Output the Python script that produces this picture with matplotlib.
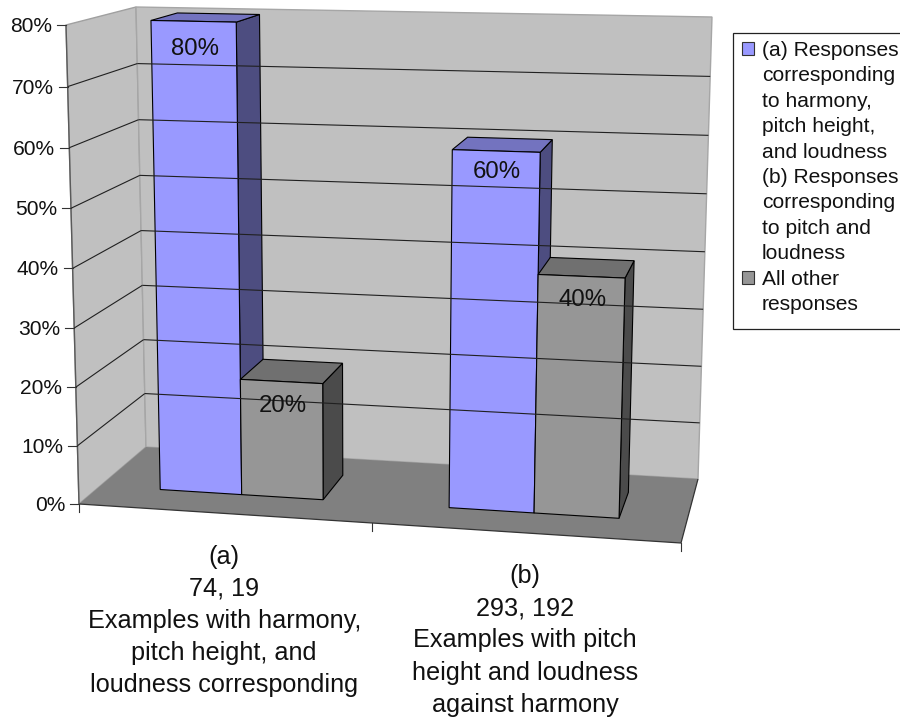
import numpy as np
import matplotlib
matplotlib.use("Agg")
import matplotlib.pyplot as plt
from matplotlib.patches import Polygon, Rectangle

plt.rcParams['font.family'] = ['Liberation Sans', 'DejaVu Sans']

# Chart content
categories = ["(a)\n74, 19\nExamples with harmony,\npitch height, and\nloudness corresponding",
              "(b)\n293, 192\nExamples with pitch\nheight and loudness\nagainst harmony"]
corresponding = [80, 60]
other = [20, 40]
value_ticks = [0, 10, 20, 30, 40, 50, 60, 70, 80]
legend_entries = ["(a) Responses\ncorresponding\nto harmony,\npitch height,\nand loudness\n(b) Responses\ncorresponding\nto pitch and\nloudness",
                  "All other\nresponses"]

BLUE = ("#9999FF", "#7373BF", "#4D4D80")
GREY = ("#969696", "#707070", "#4B4B4B")

# Screen corners of the 3-D plot box, (across, depth, height)
BOX = {(0, 0, 0): (79, 504), (1, 0, 0): (681, 543), (0, 1, 0): (146, 447), (1, 1, 0): (698, 479),
       (0, 0, 1): (66, 25), (1, 0, 1): (697, 38), (0, 1, 1): (136, 7), (1, 1, 1): (712, 17)}
VMAX = 80.0
BULGE = 0.033


def project(u, w, v):
    """Map across/depth/value to screen position by trilinear blending of the box corners."""
    s = v / VMAX
    s = s / (1 + BULGE * (1 - s))
    p = np.zeros(2)
    for (a, b, c), xy in BOX.items():
        p += (u if a else 1 - u) * (w if b else 1 - w) * (s if c else 1 - s) * np.array(xy, float)
    return p


fig = plt.figure(figsize=(9, 7.17), dpi=100)
ax = fig.add_axes([0, 0, 1, 1])
ax.set_xlim(0, 900)
ax.set_ylim(717, 0)
ax.axis("off")


def face(points, color, edge, lw=0.8):
    ax.add_patch(Polygon([project(*p) for p in points], closed=True, facecolor=color,
                         edgecolor=edge, linewidth=lw, joinstyle="miter"))


def seg(a, b, color, lw=0.8):
    pa, pb = project(*a), project(*b)
    ax.plot([pa[0], pb[0]], [pa[1], pb[1]], color=color, lw=lw, solid_capstyle="butt")


# Walls and floor
top = value_ticks[-1]
face([(0, 0, 0), (0, 1, 0), (0, 1, top), (0, 0, top)], "#C0C0C0", "#A0A0A0", 1.0)
face([(0, 1, 0), (1, 1, 0), (1, 1, top), (0, 1, top)], "#C0C0C0", "#A6A6A6", 1.0)
face([(0, 0, 0), (1, 0, 0), (1, 1, 0), (0, 1, 0)], "#808080", "none")
seg((0, 0, 0), (1, 0, 0), "#333333", 0.9)
seg((1, 0, 0), (1, 1, 0), "#333333", 0.9)
seg((0, 0, 0), (0, 0, top), "#5A5A5A", 1.0)

# Gridlines along both walls, value ticks and labels
for t in value_ticks:
    if t not in (0, top):
        seg((0, 0, t), (0, 1, t), "#202020", 0.8)
        seg((0, 1, t), (1, 1, t), "#202020", 0.8)
    x, y = project(0, 0, t)
    ax.plot([x - 9, x], [y, y], color="#333333", lw=0.8)
    ax.text(x - 14, y + 1.5, f"{t}%", ha="right", va="center", fontsize=15.1, color="#111111")

# Category ticks below the floor edge, and category labels
BOUNDARY = 0.4875
for u in (0, BOUNDARY, 1):
    x, y = project(u, 0, 0)
    ax.plot([x, x], [y, y + 8], color="#333333", lw=0.8)
for u, text in zip((BOUNDARY / 2, (BOUNDARY + 1) / 2), categories):
    x, y = project(u, 0, 0)
    ax.text(x - 1.5, y + 31, text, ha="center", va="top", fontsize=18.2,
            linespacing=1.43, color="#111111")

# Bars
Z0, Z1 = 0.32, 0.73
BAR_W = [0.139, 0.145]
GROUP_START, GROUP_STEP = 0.102, 0.493
label_nudges = [[27.5, 21.5], [24.5, 23.5]]


def bar(u0, width, value, colors, nudge):
    u1 = u0 + width
    face([(u1, Z0, 0), (u1, Z1, 0), (u1, Z1, value), (u1, Z0, value)], colors[2], "black")
    face([(u0, Z0, value), (u1, Z0, value), (u1, Z1, value), (u0, Z1, value)], colors[1], "black")
    face([(u0, Z0, 0), (u1, Z0, 0), (u1, Z0, value), (u0, Z0, value)], colors[0], "black")
    x, y = project((u0 + u1) / 2, Z0, value)
    ax.text(x + 1, y + nudge, f"{value}%", ha="center", va="center", fontsize=17.3, color="#111111")


for i in range(len(categories)):
    start = GROUP_START + i * GROUP_STEP
    bar(start, BAR_W[i], corresponding[i], BLUE, label_nudges[0][i])
    bar(start + BAR_W[i], BAR_W[i], other[i], GREY, label_nudges[1][i])

# Legend box, running off the right edge of the figure
ax.add_patch(Rectangle((733, 33), 180, 296, facecolor="white", edgecolor="#222222", lw=0.9, clip_on=True))
line_h = 25.4
row = 49
for label, colors in zip(legend_entries, (BLUE, GREY)):
    ax.add_patch(Rectangle((742, row - 7), 12, 13, facecolor=colors[0], edgecolor="#333333", lw=0.8))
    for line in label.split("\n"):
        ax.text(762, row + 1.5, line, ha="left", va="center", fontsize=15.1, color="#111111")
        row += line_h

fig.savefig("out.png", dpi=100)
